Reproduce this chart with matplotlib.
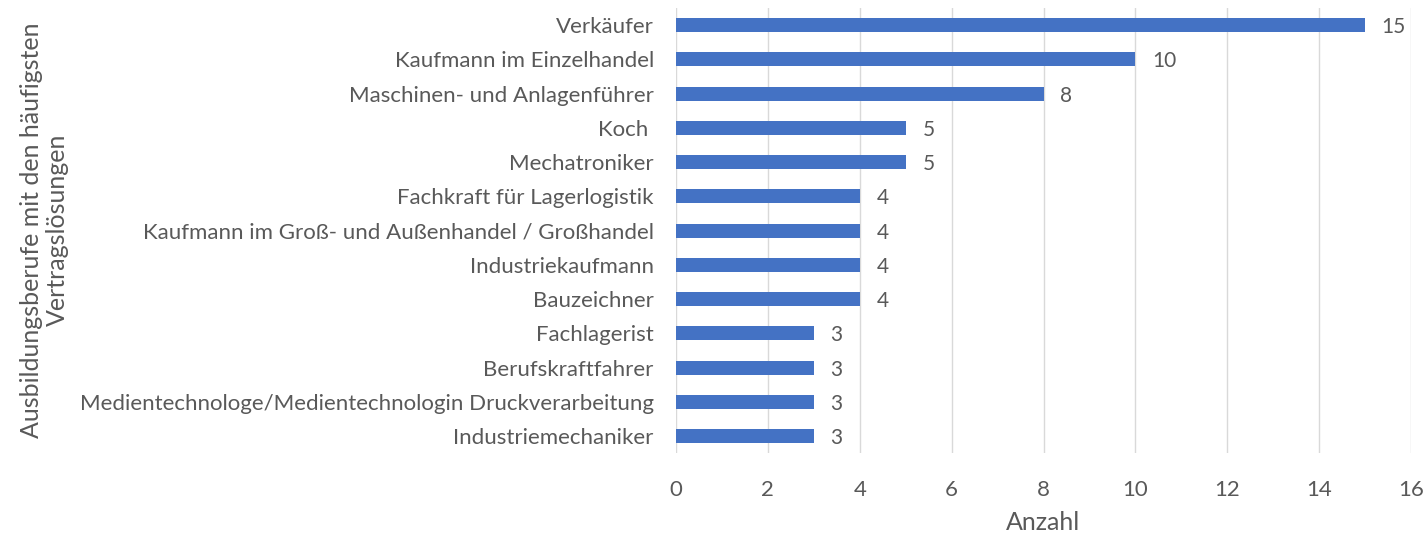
import matplotlib.pyplot as plt

# Daten (von oben nach unten wie im Original)
berufe = [
    "Verkäufer",
    "Kaufmann im Einzelhandel",
    "Maschinen- und Anlagenführer",
    "Koch ",
    "Mechatroniker",
    "Fachkraft für Lagerlogistik",
    "Kaufmann im Groß- und Außenhandel / Großhandel",
    "Industriekaufmann",
    "Bauzeichner",
    "Fachlagerist",
    "Berufskraftfahrer",
    "Medientechnologe/Medientechnologin Druckverarbeitung",
    "Industriemechaniker",
]
anzahl = [15, 10, 8, 5, 5, 4, 4, 4, 4, 3, 3, 3, 3]
x_ticks = [0, 2, 4, 6, 8, 10, 12, 14, 16]

plt.rcParams['font.family'] = ['Lato', 'DejaVu Sans']
text_color = '#595959'

fig = plt.figure(figsize=(14.28, 5.37), dpi=100)
ax = fig.add_axes([0.4734, 0.156, 0.5147, 0.829])

pos = list(range(len(berufe)))[::-1]
ax.barh(pos, anzahl, height=0.41, color='#4472C4', zorder=3)

for p, v in zip(pos, anzahl):
    ax.annotate(str(v), (v, p), xytext=(12, 0), textcoords='offset points',
                va='center_baseline', ha='left', fontsize=15, color=text_color)

ax.set_xlim(0, 16)
ax.set_ylim(-0.5, len(berufe) - 0.5)
ax.set_xticks(x_ticks)
ax.set_yticks(pos)
ax.set_yticklabels(berufe, va='center_baseline')
ax.tick_params(axis='y', length=0, labelsize=16, labelcolor=text_color, pad=16)
ax.tick_params(axis='x', length=0, labelsize=16, labelcolor=text_color, pad=19)
ax.xaxis.grid(True, color='#D9D9D9', linewidth=1, zorder=0)
for s in ax.spines.values():
    s.set_visible(False)

ax.set_xlabel("Anzahl", fontsize=18, color=text_color, labelpad=8)
fig.text(0.031, 0.572, "Ausbildungsberufe mit den häufigsten\nVertragslösungen",
         rotation=90, ha='center', va='center', fontsize=18, color=text_color,
         linespacing=1.15)

fig.savefig("out.png", dpi=100)
